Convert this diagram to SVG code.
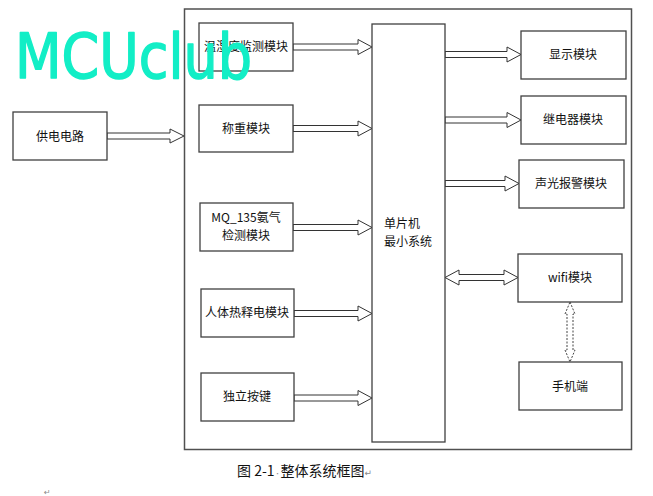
<svg xmlns="http://www.w3.org/2000/svg" width="653" height="496" viewBox="0 0 653 496">
<style>
.box{fill:#fff;stroke:#404040;stroke-width:1.3}
.frame{fill:none;stroke:#505050;stroke-width:1.5}
.arr{fill:#fff;stroke:#333;stroke-width:1}
.dot{fill:#fff;stroke:#444;stroke-width:1;stroke-dasharray:2 1.5}
.t{font-family:"Noto Sans CJK SC","DejaVu Sans",sans-serif;font-size:12px;fill:#111;text-anchor:middle}
.tl{font-family:"Noto Sans CJK SC","DejaVu Sans",sans-serif;font-size:12px;fill:#111}
.cap{font-family:"Noto Sans CJK SC","DejaVu Sans",sans-serif;font-size:14px;fill:#111}
.wm{font-family:"DejaVu Sans",sans-serif;font-size:62px;fill:#12eec6;stroke:#12eec6;stroke-width:1.5;stroke-linejoin:round}
</style>
<rect width="653" height="496" fill="#fff"/>
<rect class="frame" x="184.5" y="9" width="447" height="440.5"/>

<g id="connectors">
<path class="arr" d="M107,133 H170 V129 L184,136 L170,143 V139 H107 Z"/>
<path class="arr" d="M293,44 H358 V39.5 L372,47 L358,54.5 V50 H293 Z"/>
<path class="arr" d="M293,125.5 H358 V121 L372,128.5 L358,136 V131.5 H293 Z"/>
<path class="arr" d="M293,224.5 H358 V220 L372,227.5 L358,235 V230.5 H293 Z"/>
<path class="arr" d="M294,310.5 H358 V306 L372,313.5 L358,321 V316.5 H294 Z"/>
<path class="arr" d="M294,395 H358 V390.5 L372,398 L358,405.5 V401 H294 Z"/>
<path class="arr" d="M445,51.5 H507 V47 L521,54.5 L507,62 V57.5 H445 Z"/>
<path class="arr" d="M445,117 H507 V112.5 L521,120 L507,127.5 V123 H445 Z"/>
<path class="arr" d="M445,180.5 H505 V176 L519,183.5 L505,191 V186.5 H445 Z"/>
<path class="arr" d="M445,277.5 L459,270 V274.5 H504 V270 L518,277.5 L504,285 V280.5 H459 V285 Z"/>
<path class="dot" d="M570,302 L575,314 H573 V350 H575 L570,362 L565,350 H567 V314 H565 Z"/>
</g>

<g id="n-power"><rect class="box" x="13" y="112" width="94" height="48"/><text class="t" x="60" y="140.5">供电电路</text></g>
<g id="n-temp"><rect class="box" x="199" y="23" width="94" height="48"/><text class="t" x="246" y="51">温湿度监测模块</text></g>
<g id="n-weigh"><rect class="box" x="199" y="105" width="94" height="47"/><text class="t" x="246" y="133">称重模块</text></g>
<g id="n-mq"><rect class="box" x="200" y="203" width="93" height="48"/><text class="t" x="246" y="222">MQ_135氨气</text><text class="t" x="246" y="240">检测模块</text></g>
<g id="n-pir"><rect class="box" x="201" y="289" width="93" height="48"/><text class="t" x="247" y="317">人体热释电模块</text></g>
<g id="n-key"><rect class="box" x="201" y="373" width="93" height="48"/><text class="t" x="247" y="401">独立按键</text></g>
<g id="n-mcu"><rect class="box" x="372" y="24" width="73" height="418"/><text class="tl" x="384" y="228">单片机</text><text class="tl" x="384" y="246">最小系统</text></g>
<g id="n-disp"><rect class="box" x="521" y="31" width="105" height="48"/><text class="t" x="573" y="59">显示模块</text></g>
<g id="n-relay"><rect class="box" x="521" y="96" width="105" height="48"/><text class="t" x="573" y="124">继电器模块</text></g>
<g id="n-alarm"><rect class="box" x="519" y="160" width="105" height="48"/><text class="t" x="571" y="188">声光报警模块</text></g>
<g id="n-wifi"><rect class="box" x="518" y="254" width="104" height="48"/><text class="t" x="570" y="282">wifi模块</text></g>
<g id="n-phone"><rect class="box" x="519" y="362" width="103" height="48"/><text class="t" x="570" y="391">手机端</text></g>

<text class="cap" x="237" y="476">图 2-1<tspan font-size="6" fill="#888">·</tspan>整体系统框图<tspan font-size="9" fill="#888">↵</tspan></text>
<text x="44" y="495" font-family="DejaVu Sans,sans-serif" font-size="8" fill="#888">↵</text>
<text class="wm" x="15" y="78" textLength="237" lengthAdjust="spacingAndGlyphs">MCUclub</text>
</svg>
